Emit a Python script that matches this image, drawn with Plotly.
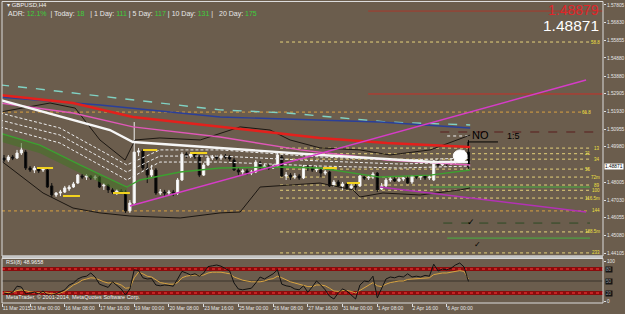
import plotly.graph_objects as go

# ---------------- data (GBPUSD H4, bar 0 = 12 Mar 2015 00:00) ----------------
bars = list(range(108))
open_ = [1.4935,1.4924,1.4941,1.4935,1.4963,1.4968,1.4880,1.4869,1.4875,1.4869,
 1.4869,1.4781,1.4731,1.4742,1.4747,1.4764,1.4775,1.4797,1.4836,1.4830,
 1.4836,1.4825,1.4830,1.4781,1.4786,1.4759,1.4747,1.4753,1.4747,1.4643,
 1.4687,1.4968,1.4974,1.4880,1.4841,1.4869,1.4742,1.4747,1.4742,1.4747,
 1.4742,1.4814,1.4957,1.4946,1.4957,1.4941,1.4841,1.4897,1.4935,1.4941,
 1.4935,1.4946,1.4941,1.4924,1.4869,1.4858,1.4864,1.4852,1.4858,1.4908,
 1.4886,1.4891,1.4880,1.4891,1.4941,1.4836,1.4841,1.4830,1.4836,1.4825,
 1.4886,1.4880,1.4869,1.4869,1.4852,1.4858,1.4786,1.4803,1.4781,1.4792,
 1.4770,1.4781,1.4781,1.4830,1.4825,1.4830,1.4852,1.4764,1.4781,1.4814,
 1.4819,1.4808,1.4819,1.4825,1.4803,1.4836,1.4830,1.4836,1.4825,1.4814,
 1.4919,1.4897,1.4908,1.4902,1.4913,1.4924,1.4935,1.4968]
high_ = [1.4952,1.4952,1.4952,1.4980,1.5018,1.4980,1.4891,1.4891,1.4886,1.4880,
 1.4880,1.4797,1.4747,1.4759,1.4781,1.4786,1.4803,1.4847,1.4847,1.4847,
 1.4841,1.4841,1.4836,1.4797,1.4792,1.4770,1.4764,1.4764,1.4759,1.4703,
 1.5134,1.4991,1.4985,1.4913,1.4897,1.4880,1.4764,1.4759,1.4759,1.4759,
 1.4825,1.4968,1.4968,1.4968,1.4963,1.4952,1.4908,1.4946,1.4952,1.4952,
 1.4957,1.4957,1.4952,1.4935,1.4880,1.4875,1.4875,1.4869,1.4924,1.4919,
 1.4902,1.4902,1.4902,1.4963,1.4952,1.4858,1.4852,1.4852,1.4847,1.4897,
 1.4897,1.4891,1.4891,1.4880,1.4869,1.4864,1.4814,1.4814,1.4803,1.4797,
 1.4797,1.4792,1.4841,1.4836,1.4836,1.4858,1.4858,1.4797,1.4825,1.4830,
 1.4830,1.4830,1.4830,1.4836,1.4841,1.4841,1.4841,1.4841,1.4841,1.4924,
 1.4930,1.4919,1.4919,1.4930,1.4941,1.4952,1.4980,1.5035]
low_ = [1.4913,1.4913,1.4924,1.4930,1.4952,1.4869,1.4858,1.4852,1.4852,1.4858,
 1.4770,1.4720,1.4720,1.4725,1.4742,1.4753,1.4770,1.4792,1.4819,1.4814,
 1.4814,1.4814,1.4770,1.4759,1.4742,1.4736,1.4731,1.4736,1.4632,1.4632,
 1.4676,1.4946,1.4869,1.4797,1.4825,1.4731,1.4731,1.4725,1.4731,1.4725,
 1.4731,1.4808,1.4935,1.4935,1.4930,1.4830,1.4836,1.4891,1.4924,1.4924,
 1.4924,1.4930,1.4919,1.4864,1.4841,1.4841,1.4841,1.4841,1.4852,1.4875,
 1.4875,1.4869,1.4875,1.4886,1.4830,1.4814,1.4814,1.4819,1.4814,1.4819,
 1.4864,1.4858,1.4858,1.4830,1.4841,1.4775,1.4775,1.4775,1.4759,1.4759,
 1.4759,1.4759,1.4775,1.4814,1.4814,1.4819,1.4747,1.4759,1.4770,1.4803,
 1.4803,1.4803,1.4808,1.4792,1.4792,1.4819,1.4814,1.4814,1.4814,1.4808,
 1.4886,1.4891,1.4891,1.4897,1.4902,1.4913,1.4924,1.4875]
close_ = [1.4924,1.4941,1.4935,1.4963,1.4980,1.4880,1.4869,1.4880,1.4864,1.4875,
 1.4775,1.4731,1.4742,1.4747,1.4770,1.4775,1.4792,1.4841,1.4830,1.4836,
 1.4825,1.4830,1.4775,1.4786,1.4759,1.4747,1.4753,1.4747,1.4643,1.4687,
 1.4968,1.4974,1.4880,1.4841,1.4869,1.4742,1.4747,1.4742,1.4747,1.4742,
 1.4814,1.4957,1.4946,1.4957,1.4941,1.4841,1.4897,1.4935,1.4941,1.4935,
 1.4946,1.4941,1.4930,1.4869,1.4858,1.4864,1.4852,1.4858,1.4913,1.4886,
 1.4891,1.4880,1.4891,1.4952,1.4836,1.4841,1.4830,1.4836,1.4825,1.4886,
 1.4880,1.4869,1.4875,1.4852,1.4858,1.4781,1.4803,1.4781,1.4792,1.4770,
 1.4781,1.4775,1.4836,1.4825,1.4830,1.4847,1.4759,1.4781,1.4814,1.4819,
 1.4808,1.4819,1.4825,1.4797,1.4836,1.4830,1.4836,1.4825,1.4830,1.4919,
 1.4897,1.4908,1.4902,1.4913,1.4924,1.4935,1.4968,1.4887]

rsi_main = [20,18,22,37,35,18,20,22,18,25,
 15,14,18,22,28,40,45,55,60,62,
 70,60,42,38,34,48,40,30,15,30,
 78,76,58,55,56,40,38,40,39,37,
 55,74,70,65,68,62,70,86,88,90,
 87,82,75,45,30,28,30,32,45,60,
 55,62,68,78,42,38,36,30,28,38,
 22,35,50,40,28,12,5,20,30,25,
 15,5,40,50,48,62,8,30,55,60,
 58,62,60,68,60,62,60,64,62,92,
 75,80,78,82,90,95,85,48.9658]
rsi_signal = [22,21,22,26,28,25,23,22,21,22,
 20,18,18,20,24,32,40,45,52,55,
 58,57,52,48,45,46,44,40,32,33,
 58,72,68,62,60,52,46,44,42,42,
 46,58,62,64,65,64,65,70,72,72,
 72,70,68,60,56,52,50,48,48,48,
 50,54,56,62,58,52,48,45,42,40,
 36,36,40,40,38,32,25,24,26,26,
 24,20,26,34,40,46,38,36,42,46,
 48,50,50,54,55,56,56,58,58,66,
 68,70,70,72,74,76,74,55]

# indicator lines (knots: bar position, price)
white_ma_k = [-0.9, 24.4, 29.7, 39.9, 49.8, 61.3, 72.8, 84.3, 98.9, 106.9]
white_ma_p = [1.5256, 1.5090, 1.5024, 1.5007, 1.4991, 1.4968, 1.4952, 1.4935, 1.4913, 1.4913]
red_ma_k = [-0.9, 15.9, 29.7, 49.8, 72.8, 88.2, 107.4]
red_ma_p = [1.5283, 1.5239, 1.5162, 1.5107, 1.5046, 1.5018, 1.4996]
teal_k = [-0.9, 6.0, 49.8, 65.2, 88.2, 107.4]
teal_p = [1.5339, 1.5322, 1.5201, 1.5184, 1.5134, 1.5118]
blue_k = [-0.9, 22.1, 49.8, 86.6, 107.4]
blue_p = [1.5272, 1.5228, 1.5162, 1.5134, 1.5101]
bb_up_k = [-0.9, 10.6, 16.4, 22.1, 27.9, 30.2, 35.9, 45.2, 54.4, 61.3, 65.9, 72.8, 82.0, 88.9, 98.2, 107.4]
bb_up_p = [1.5189, 1.5239, 1.5211, 1.5035, 1.4924, 1.5035, 1.5046, 1.5035, 1.5107, 1.5090, 1.5035, 1.4991, 1.4980, 1.4952, 1.4980, 1.5062]
bb_lo_k = [-0.9, 9.0, 15.9, 22.1, 29.0, 40.6, 49.8, 54.4, 59.0, 72.8, 80.4, 82.0, 87.3, 95.9, 105.1, 107.4]
bb_lo_p = [1.4924, 1.4742, 1.4659, 1.4632, 1.4615, 1.4604, 1.4632, 1.4637, 1.4775, 1.4797, 1.4759, 1.4720, 1.4742, 1.4731, 1.4759, 1.4770]
green_k = [-0.9, 8.3, 17.5, 28.3, 31.3, 40.6, 49.8, 63.6, 72.8, 86.6, 98.2, 107.4]
green_p = [1.5073, 1.5007, 1.4897, 1.4775, 1.4814, 1.4858, 1.4880, 1.4886, 1.4880, 1.4830, 1.4841, 1.4869]
band_k = [-0.9, 8.3, 17.5, 28.3]
band_top_p = [1.5073, 1.5007, 1.4897, 1.4775]
band_low_p = [1.5027, 1.4962, 1.4852, 1.4731]
env_k = [-0.9, 12.9, 28.3, 35.9, 49.8, 72.8, 91.2, 107.4]
env1_p = [1.5184, 1.5101, 1.4897, 1.4980, 1.4980, 1.4941, 1.4924, 1.4935]
env2_p = [1.5145, 1.5062, 1.4858, 1.4946, 1.4946, 1.4919, 1.4902, 1.4913]
env3_p = [1.5107, 1.5018, 1.4814, 1.4913, 1.4913, 1.4891, 1.4880, 1.4891]
pink_k = [-0.9, 15.9, 29.7, 49.8, 68.2, 88.2, 107.4]
pink_p = [1.5239, 1.5184, 1.5107, 1.5051, 1.4980, 1.4924, 1.4897]
trend_up_k = [29.0, 134.1]
trend_up_p = [1.4670, 1.5366]
trend_dn_k = [86.6, 134.1]
trend_dn_p = [1.4775, 1.4637]

seg_k0 = [7.6, 13.6, 25.1, 32.0, 42.9, 73.5, 79.0]
seg_k1 = [11.3, 17.5, 29.0, 35.3, 46.8, 76.7, 82.0]
seg_p = [1.4880, 1.4725, 1.4742, 1.4980, 1.4963, 1.4880, 1.4797]

level_names = ["58.8", "61.8", "13", "21", "34", "55", "72m", "89", "100", "116.5m", "144", "188.5m", "233"]
level_prices = [1.5576, 1.5189, 1.4990, 1.4959, 1.4929, 1.4874, 1.4830, 1.4786, 1.4757, 1.4714, 1.4643, 1.4527, 1.4411]
level_full = [False, True, False, False, False, False, False, False, False, False, True, False, False]

x_tick_bars = [-0.4, 6, 14, 22, 30, 38, 46, 54, 62, 70, 78, 86, 94, 102]
x_tick_text = ["11 Mar 2015", "13 Mar 00:00", "16 Mar 08:00", "17 Mar 16:00", "19 Mar 00:00",
               "20 Mar 08:00", "23 Mar 16:00", "25 Mar 00:00", "26 Mar 08:00", "27 Mar 16:00",
               "31 Mar 00:00", "1 Apr 08:00", "2 Apr 16:00", "6 Apr 00:00"]
price_ticks = [1.57805, 1.56830, 1.55855, 1.54880, 1.53880, 1.52905, 1.51930, 1.50955,
               1.49980, 1.48005, 1.47030, 1.46055, 1.45080, 1.44105]
rsi_box_levels = [80, 50, 20]
bid_price = 1.48871
ask_price = 1.48879

# ---------------- figure ----------------
BG = "#6b5d4d"
FONT = "Liberation Sans, Arial, sans-serif"
XR = [-0.46, 138.0]
XD = [2 / 625, 603 / 625]
fig = go.Figure()

def line(xs, ys, color, width=1.0, dash="solid", xa="x", ya="y"):
    fig.add_trace(go.Scatter(x=xs, y=ys, mode="lines", xaxis=xa, yaxis=ya,
                             line=dict(color=color, width=width, dash=dash),
                             hoverinfo="skip", showlegend=False))

# green ribbon
fig.add_trace(go.Scatter(x=band_k, y=band_low_p, mode="lines", line=dict(width=0),
                         hoverinfo="skip", showlegend=False))
fig.add_trace(go.Scatter(x=band_k, y=band_top_p, mode="lines", line=dict(width=0),
                         fill="tonexty", fillcolor="rgba(70,115,40,0.6)",
                         hoverinfo="skip", showlegend=False))

line(bb_up_k, bb_up_p, "#1c1712", 1)
line(bb_lo_k, bb_lo_p, "#1c1712", 1)
line(teal_k, teal_p, "#80d2c4", 1.4, "dash")
line(blue_k, blue_p, "#2a3f9a", 1.4)
line(pink_k, pink_p, "#e058b8", 1.4)
line(red_ma_k, red_ma_p, "#e4201c", 2.6)
line(white_ma_k, white_ma_p, "#f6f6f6", 2.4)
line(green_k, green_p, "#3ca030", 1.4)
for env in (env1_p, env2_p, env3_p):
    line(env_k, env, "#ececec", 1, "3px,2px")

fig.add_trace(go.Candlestick(
    x=bars, open=open_, high=high_, low=low_, close=close_,
    increasing=dict(line=dict(color="#f0f0f0", width=1), fillcolor="#ffffff"),
    decreasing=dict(line=dict(color="#101010", width=1), fillcolor="#000000"),
    whiskerwidth=0, hoverinfo="skip", showlegend=False))

# yellow day markers
sx, sy = [], []
for a, b, p in zip(seg_k0, seg_k1, seg_p):
    sx += [a, b, None]
    sy += [p, p, None]
line(sx, sy, "#f2d21e", 2)

line(trend_up_k, trend_up_p, "#d63cc8", 1.4)
line(trend_dn_k, trend_dn_p, "#b232b4", 1.4)

# RSI
line(bars, rsi_signal, "#d9a441", 1, xa="x2", ya="y2")
line(bars, rsi_main, "#121212", 1, xa="x2", ya="y2")

shapes = []
annotations = []

# level lines
for i, (name, p, full) in enumerate(zip(level_names, level_prices, level_full)):
    col = "#d9a040" if full else "#e6d27a"
    shapes.append(dict(type="line", xref="x", yref="y", x0=(-0.46 if full else 63.6), x1=135.0,
                       y0=p, y1=p, line=dict(color=col, width=1, dash="dot"), layer="below"))
    lx = 137.8 if (i % 2 == 0 or i > 5) else 135.6
    annotations.append(dict(x=lx, y=p, xref="x", yref="y", text=name, showarrow=False,
                            xanchor="right", yanchor="middle",
                            font=dict(size=4.5, color="#f0e040", family=FONT)))

# other horizontal lines
hl = [(83.9, 138.0, 1.5747, "#a8382c", 1, "solid"),
      (83.9, 138.0, 1.5289, "#c83028", 1, "solid"),
      (100.5, 138.0, 1.5079, "#5a1e1e", 1, "dash"),
      (102.1, 107.0, 1.5057, "#f0f0f0", 1, "dot"),
      (98.2, 135.0, 1.4775, "#48b040", 1, "solid"),
      (101.2, 135.0, 1.4576, "#2d4a24", 1, "dash"),
      (102.1, 135.0, 1.4493, "#48b040", 1, "solid")]
for x0, x1, p, c, w, d in hl:
    shapes.append(dict(type="line", xref="x", yref="y", x0=x0, x1=x1, y0=p, y1=p,
                       line=dict(color=c, width=w, dash=d), layer="below"))

# hand drawings
shapes.append(dict(type="circle", xref="x", yref="y", x0=103.5, x1=106.7, y0=1.4913, y1=1.4980,
                   fillcolor="#ffffff", line=dict(color="#ffffff", width=1)))
shapes.append(dict(type="line", xref="x", yref="y", x0=106.9, x1=113.8, y0=1.5024, y1=1.5024,
                   line=dict(color="#000000", width=1)))
shapes.append(dict(type="line", xref="x", yref="y", x0=106.9, x1=106.9, y0=1.5024, y1=1.5002,
                   line=dict(color="#000000", width=1)))
annotations += [
    dict(x=109.8, y=1.5063, xref="x", yref="y", text="NO", showarrow=False,
         font=dict(size=11, color="#000000", family=FONT)),
    dict(x=117.3, y=1.5058, xref="x", yref="y", text="1:5", showarrow=False,
         font=dict(size=9, color="#000000", family=FONT)),
    dict(x=107.5, y=1.4583, xref="x", yref="y", text="✓", showarrow=False,
         font=dict(size=9, color="#000000", family="DejaVu Sans")),
    dict(x=109.2, y=1.4459, xref="x", yref="y", text="✓", showarrow=False,
         font=dict(size=8, color="#000000", family="DejaVu Sans")),
]

# frames and RSI levels
shapes += [
    dict(type="rect", xref="paper", yref="paper", x0=XD[0], x1=XD[1], y0=1 - 256 / 314, y1=1 - 1.5 / 314,
         line=dict(color="#dcdcdc", width=1)),
    dict(type="line", xref="paper", yref="paper", x0=XD[0], x1=XD[1], y0=1 - 257 / 314, y1=1 - 257 / 314,
         line=dict(color="#c4c4c4", width=3)),
    dict(type="rect", xref="paper", yref="paper", x0=XD[0], x1=XD[1], y0=1 - 303 / 314, y1=1 - 258.5 / 314,
         line=dict(color="#dcdcdc", width=1)),
]
for lv in (80, 20):
    shapes.append(dict(type="line", xref="paper", yref="y2", x0=XD[0], x1=XD[1], y0=lv, y1=lv,
                       line=dict(color="#8a0c0c", width=4), layer="below"))
    shapes.append(dict(type="line", xref="paper", yref="y2", x0=XD[0], x1=XD[1], y0=lv, y1=lv,
                       line=dict(color="#ff3a3a", width=1, dash="dot"), layer="below"))
shapes.append(dict(type="line", xref="paper", yref="y2", x0=XD[0], x1=XD[1], y0=50, y1=50,
                   line=dict(color="#3a342c", width=1), layer="below"))

for lv in rsi_box_levels:
    annotations.append(dict(x=605 / 625, y=lv, xref="paper", yref="y2", text=str(lv), showarrow=False,
                            xanchor="left", yanchor="middle", bgcolor="#151515", borderpad=0,
                            font=dict(size=4.5, color="#9a9a9a", family=FONT)))

# texts
annotations += [
    dict(x=5 / 625, y=1 - 5 / 314, xref="paper", yref="paper", text="▾ GBPUSD,H4", showarrow=False,
         xanchor="left", yanchor="middle", font=dict(size=6, color="#f0f0f0", family=FONT)),
    dict(x=6 / 625, y=1 - 14 / 314, xref="paper", yref="paper", showarrow=False,
         xanchor="left", yanchor="middle", font=dict(size=7, color="#e8e8e8", family=FONT),
         text=("ADR: <span style='color:#3ccf3c'>12.1%</span>  | Today: <span style='color:#3ccf3c'>18</span>"
               "   | 1 Day: <span style='color:#3ccf3c'>111</span> | 5 Day: <span style='color:#3ccf3c'>117</span>"
               " | 10 Day: <span style='color:#3ccf3c'>131</span> |   20 Day: <span style='color:#3ccf3c'>175</span>")),
    dict(x=601 / 625, y=1 - 10 / 314, xref="paper", yref="paper", text=f"{ask_price:.5f}", showarrow=False,
         xanchor="right", yanchor="middle", font=dict(size=14, color="#e0262a", family=FONT)),
    dict(x=601 / 625, y=1 - 25.5 / 314, xref="paper", yref="paper", text=f"{bid_price:.5f}", showarrow=False,
         xanchor="right", yanchor="middle", font=dict(size=15.5, color="#ffffff", family=FONT)),
    dict(x=604 / 625, y=bid_price, xref="paper", yref="y", text=f"{bid_price:.5f}", showarrow=False,
         xanchor="left", yanchor="middle", bgcolor="#ffffff", borderpad=0,
         font=dict(size=4.8, color="#000000", family=FONT)),
    dict(x=4 / 625, y=1 - 262 / 314, xref="paper", yref="paper", text=f"RSI(8) {rsi_main[-1]:.4f}",
         showarrow=False, xanchor="left", yanchor="middle", font=dict(size=5.5, color="#f0f0f0", family=FONT)),
    dict(x=4 / 625, y=1 - 297 / 314, xref="paper", yref="paper",
         text="MetaTrader, © 2001-2014, MetaQuotes Software Corp.", showarrow=False,
         xanchor="left", yanchor="middle", font=dict(size=5.5, color="#f0f0f0", family=FONT)),
]

yaxis_font = dict(size=4.8, color="#e6e6e6", family=FONT)
xaxis_font = dict(size=5, color="#e6e6e6", family=FONT)
fig.update_layout(
    width=625, height=314, margin=dict(l=0, r=0, t=0, b=0, autoexpand=False),
    paper_bgcolor=BG, plot_bgcolor=BG, showlegend=False, hovermode=False,
    font=dict(family=FONT, size=6, color="#e6e6e6"),
    xaxis=dict(domain=XD, range=XR, anchor="y", showgrid=False, zeroline=False, automargin=False,
               showticklabels=False, ticks="", rangeslider=dict(visible=False), showline=False),
    yaxis=dict(domain=[1 - 256 / 314, 1 - 1.5 / 314], range=[1.43940, 1.57998], side="right", anchor="x",
               tickvals=price_ticks, ticktext=[f"{v:.5f}" for v in price_ticks], ticks="outside",
               ticklen=2, tickcolor="#e0e0e0", tickfont=yaxis_font, showgrid=False, zeroline=False,
               showline=False, automargin=False),
    xaxis2=dict(domain=XD, range=XR, anchor="y2", matches="x", showgrid=False, zeroline=False,
                tickvals=x_tick_bars, ticktext=x_tick_text, ticks="outside", ticklen=3, tickangle=0,
                tickcolor="#e0e0e0", ticklabelposition="outside right", tickfont=xaxis_font,
                showline=False, automargin=False),
    yaxis2=dict(domain=[1 - 303 / 314, 1 - 258.5 / 314], range=[-5, 106.25], side="right", anchor="x2",
                tickvals=[0, 100], ticktext=["0", "100"], ticks="outside", ticklen=2,
                tickcolor="#e0e0e0", tickfont=yaxis_font, showgrid=False, zeroline=False, showline=False,
                automargin=False),
    shapes=shapes, annotations=annotations,
)

fig.write_html("out.html", config={"displayModeBar": False})
